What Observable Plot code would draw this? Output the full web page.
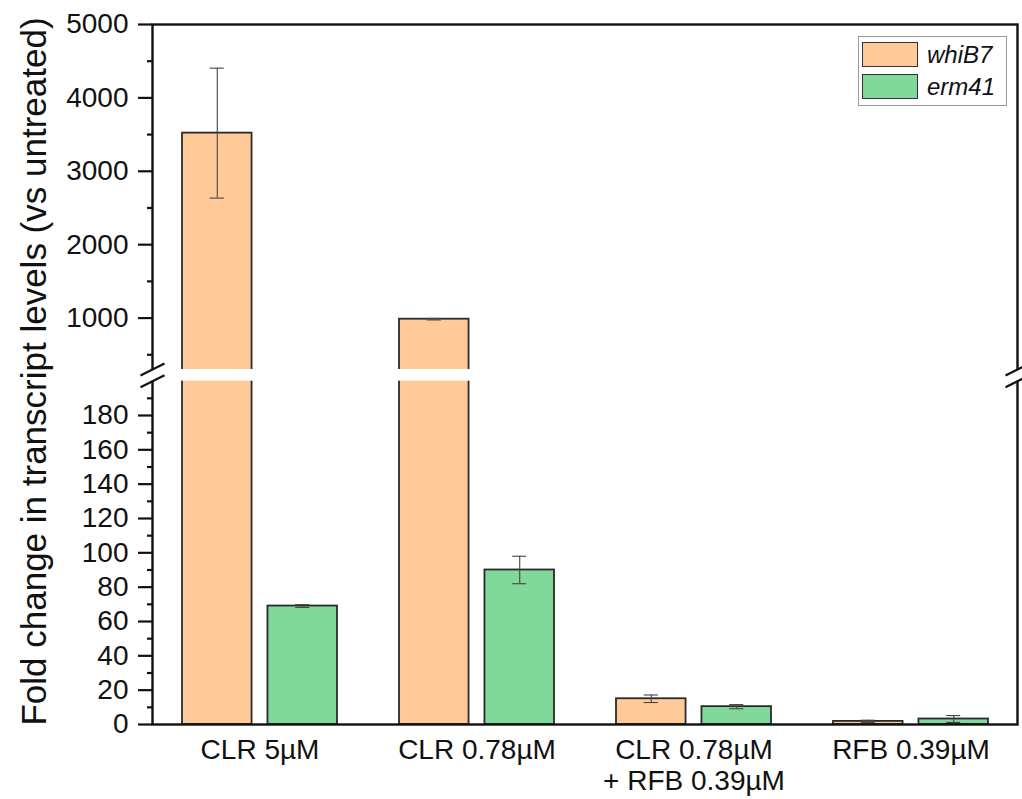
<!DOCTYPE html>
<html>
<head>
<meta charset="utf-8">
<script src="https://cdn.jsdelivr.net/npm/d3@7"></script>
<script src="https://cdn.jsdelivr.net/npm/@observablehq/plot@0.6"></script>
<style>
  html, body { margin: 0; padding: 0; background: #fff; }
  #wrap { position: relative; width: 1022px; height: 799px; font-family: "Liberation Sans", Arial, sans-serif; }
  #legend { position: absolute; left: 858px; top: 36px; width: 147px; height: 68px; border: 1px solid #9a9a9a; background: #fff; }
  .lg-row { position: absolute; left: 3px; height: 27px; display: flex; align-items: center; }
  .lg-sw { width: 56px; height: 25px; border: 1.5px solid #333; box-sizing: border-box; }
  .lg-tx { margin-left: 9px; font-style: italic; font-size: 24px; color: #111; }
</style>
</head>
<body>
<div id="wrap"><div id="legend"></div></div>
<script>
// ---- data ----
const groups = ["CLR 5µM", "CLR 0.78µM", "CLR 0.78µM + RFB 0.39µM", "RFB 0.39µM"];
const tickLabels = ["CLR 5µM", "CLR 0.78µM", "CLR 0.78µM\n+ RFB 0.39µM", "RFB 0.39µM"];
const genes = ["whiB7", "erm41"];
const whiB7 = [3520, 985, 15, 1.8];
const whiB7Err = [885, 10, 2.2, 0.7];
const erm41 = [69, 90, 10.4, 3.2];
const erm41Err = [0.8, 8, 1.2, 2];
const lowerTicks = [0, 20, 40, 60, 80, 100, 120, 140, 160, 180];
const upperTicks = [1000, 2000, 3000, 4000, 5000];
const lowerMinor = [10, 30, 50, 70, 90, 110, 130, 150, 170, 190];
const upperMinor = [500, 1500, 2500, 3500, 4500];
const breakLow = 200, breakHigh = 300;
const colors = ["#ffc998", "#80d99b"];
const yTitle = "Fold change in transcript levels (vs untreated)";

// ---- layout ----
const W = 1022, H = 799;
const mL = 152, mR = 5, mT = 24, mB = 75;
const yBottom = H - mB, yTop = mT;
const pxLow = 1.7167;          // px per unit in lower segment
const gap = 11.7;
const yAt200 = yBottom - breakLow * pxLow;
const yAt300 = yAt200 - gap;
const pInner = 0.286, pOuter = 0.136;
const step = (W - mL - mR) / (groups.length - pInner + 2 * pOuter);
const bw = step * (1 - pInner);
const barW = 69.5;
const inset = bw - barW;
const capHalf = 7;

const rows = groups.flatMap((g, i) => [
  {group: g, gene: "whiB7", value: whiB7[i], lo: whiB7[i] - whiB7Err[i], hi: whiB7[i] + whiB7Err[i]},
  {group: g, gene: "erm41", value: erm41[i], lo: erm41[i] - erm41Err[i], hi: erm41[i] + erm41Err[i]}
]);
const rW = rows.filter(d => d.gene === "whiB7");
const rE = rows.filter(d => d.gene === "erm41");

const slash = {draw(context) { context.moveTo(-12, 6); context.lineTo(12, -6); }};
const labelOf = d => tickLabels[groups.indexOf(d)];
const hasAxisMarks = typeof Plot.axisY === "function";

const marks = [
  Plot.barY(rW, {x: "group", y: "value", fill: colors[0], stroke: "#2a2a2a", strokeWidth: 1.8, insetRight: inset}),
  Plot.barY(rE, {x: "group", y: "value", fill: colors[1], stroke: "#2a2a2a", strokeWidth: 1.8, insetLeft: inset}),
  Plot.ruleX(rW, {x: "group", y1: "lo", y2: "hi", dx: -(bw / 2 - barW / 2), stroke: "#444", strokeWidth: 1.1}),
  Plot.ruleX(rE, {x: "group", y1: "lo", y2: "hi", dx: (bw / 2 - barW / 2), stroke: "#444", strokeWidth: 1.1}),
  Plot.tickY(rW, {x: "group", y: "hi", insetLeft: barW / 2 - capHalf, insetRight: bw - barW / 2 - capHalf, stroke: "#444", strokeWidth: 1.1}),
  Plot.tickY(rW, {x: "group", y: "lo", insetLeft: barW / 2 - capHalf, insetRight: bw - barW / 2 - capHalf, stroke: "#444", strokeWidth: 1.1}),
  Plot.tickY(rE, {x: "group", y: "hi", insetLeft: bw - barW / 2 - capHalf, insetRight: barW / 2 - capHalf, stroke: "#444", strokeWidth: 1.1}),
  Plot.tickY(rE, {x: "group", y: "lo", insetLeft: bw - barW / 2 - capHalf, insetRight: barW / 2 - capHalf, stroke: "#444", strokeWidth: 1.1}),
  Plot.frame({stroke: "#111", strokeWidth: 2.4}),
  Plot.rect([0], {y1: breakLow, y2: breakHigh, fill: "white", insetLeft: -6, insetRight: -6}),
  Plot.dot([breakLow, breakHigh], {y: d => d, frameAnchor: "left", symbol: slash, fill: "none", stroke: "#111", strokeWidth: 2.2}),
  Plot.dot([breakLow, breakHigh], {y: d => d, frameAnchor: "right", symbol: slash, fill: "none", stroke: "#111", strokeWidth: 2.2}),
  Plot.text([yTitle], {text: d => d, frameAnchor: "left", textAnchor: "middle", lineAnchor: "middle", rotate: -90, dx: -118, dy: -3, fontSize: 35, fill: "#111"})
];
if (hasAxisMarks) {
  marks.push(
    Plot.axisY({ticks: [...lowerTicks, ...upperTicks], tickSize: 14, tickPadding: 10, tickFormat: d => String(d), fontSize: 28, strokeWidth: 2.2, label: null, color: "#111"}),
    Plot.axisY({ticks: [...lowerMinor, ...upperMinor], tickSize: 5, tickFormat: () => "", strokeWidth: 2.2, label: null}),
    Plot.axisX({tickSize: 0, tickPadding: 12, tickFormat: labelOf, fontSize: 28, lineHeight: 1.12, label: null, color: "#111"})
  );
}

const chart = Plot.plot({
  width: W, height: H,
  marginLeft: mL, marginRight: mR, marginTop: mT, marginBottom: mB,
  style: {fontFamily: "'Liberation Sans', Arial, sans-serif", color: "#111", background: "white"},
  x: {domain: groups, paddingInner: pInner, paddingOuter: pOuter, label: null,
      ...(hasAxisMarks ? {axis: null} : {tickSize: 0, tickFormat: labelOf})},
  y: {type: "linear", domain: [0, breakLow, breakHigh, 5000], range: [yBottom, yAt200, yAt300, yTop], label: null,
      ...(hasAxisMarks ? {axis: null} : {ticks: [...lowerTicks, ...upperTicks], tickSize: 14, tickFormat: d => String(d)})},
  marks
});
document.getElementById("wrap").prepend(chart);

// legend
const lg = document.getElementById("legend");
genes.forEach((g, i) => {
  const row = document.createElement("div");
  row.className = "lg-row";
  row.style.top = (4 + i * 32) + "px";
  row.innerHTML = `<div class="lg-sw" style="background:${colors[i]}"></div><div class="lg-tx">${g}</div>`;
  lg.appendChild(row);
});
</script>
</body>
</html>
